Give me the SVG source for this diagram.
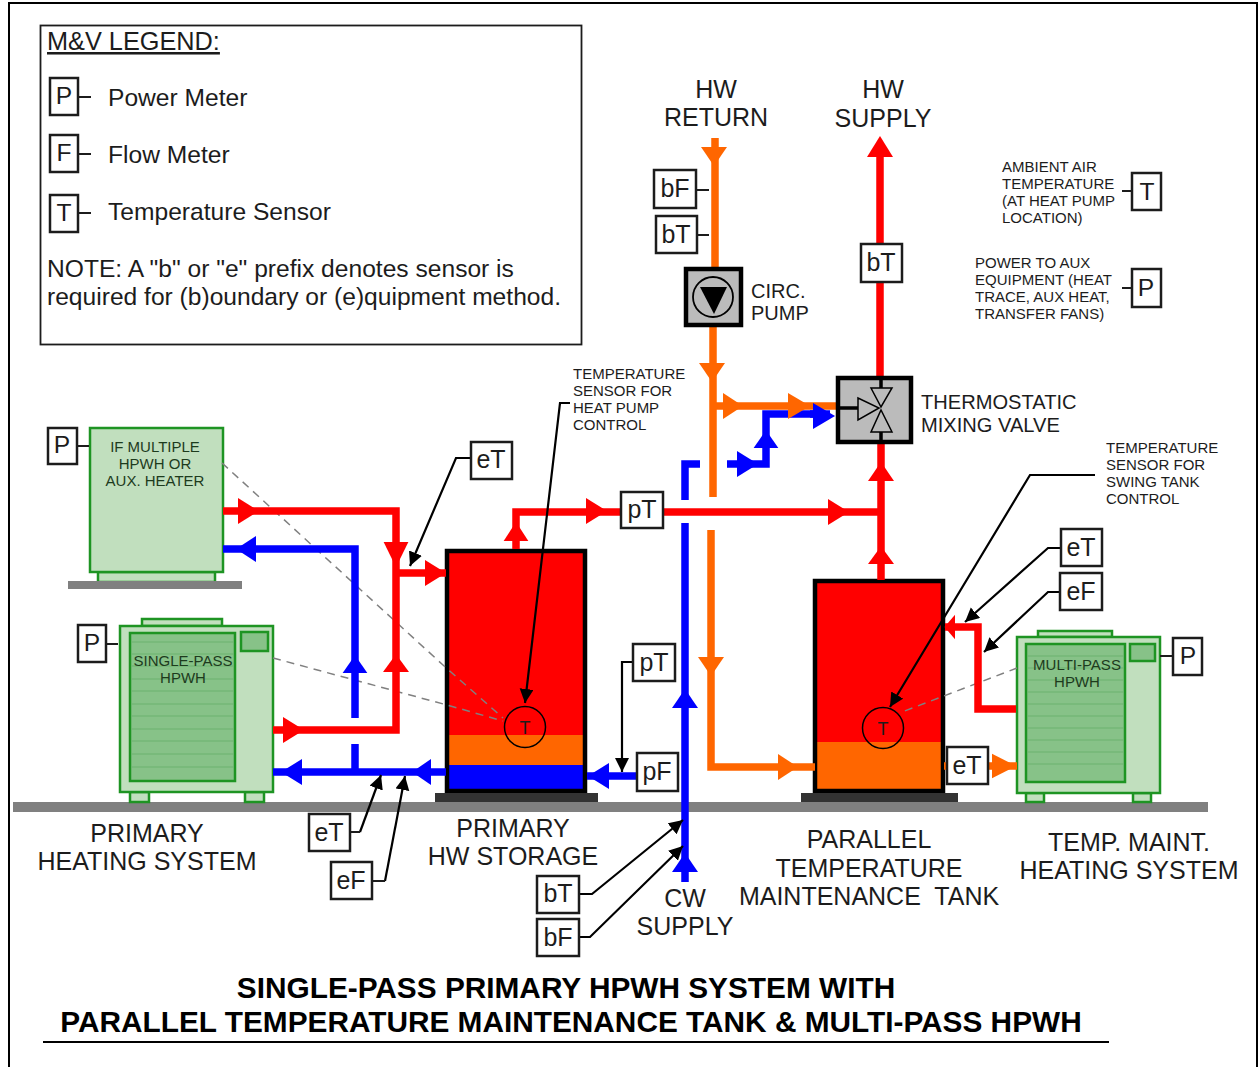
<svg xmlns="http://www.w3.org/2000/svg" width="1259" height="1067" viewBox="0 0 1259 1067">
<style>
text{font-family:"Liberation Sans",Arial,sans-serif;fill:#1c1c1c}
.l{font-size:24.600px}.m{font-size:25px}.s{font-size:15px}.u{font-size:15px;fill:#1d3b1d}
.c{text-anchor:middle}
.t{font-size:29.800px;font-weight:bold;fill:#000}
.p{font-size:20px}.v{font-size:20.100px}
.box{fill:#fff;stroke:#1c1c1c;stroke-width:2.5}
.tick{stroke:#1c1c1c;stroke-width:2;fill:none}
.lead{stroke:#000;stroke-width:2.2;fill:none;marker-end:url(#lh)}
.pipe{fill:none;stroke-width:7.5}
.red{stroke:#f00}.blue{stroke:#00f}.orange{stroke:#f60}
.fr{fill:#f00}.fb{fill:#00f}.fo{fill:#f60}
.hp{fill:#c1dfbe;stroke:#1e9423;stroke-width:2.5}
.coil{fill:#87c288;stroke:#1e9423;stroke-width:2.5}
.fin{stroke:#6cb26f;stroke-width:1.2}
.dash{fill:none;stroke:#808080;stroke-width:1.5;stroke-dasharray:8 6}
.tank{stroke:#000;stroke-width:4.5;fill:none}
.base{fill:#333}.pad{fill:#808080}
.gray{fill:#bbb;stroke:#000;stroke-width:4.5}
.vt{fill:#bbb;stroke:#000;stroke-width:1.5}
</style>
<defs>
<path id="h" d="M0-13L21 0L0 13Z"/>
<marker id="lh" markerUnits="userSpaceOnUse" markerWidth="16" markerHeight="16" refX="14" refY="7" orient="auto"><path d="M0 0L14 7L0 14Z" fill="#000"/></marker>
</defs>
<rect width="1259" height="1067" fill="#fff"/>
<path d="M9 1067V3H1257V1067" fill="none" stroke="#000" stroke-width="2"/>
<rect class="pad" x="13" y="802" width="1195" height="10"/>

<g id="legend">
<rect x="40.500" y="25.500" width="541" height="319" fill="#fff" stroke="#1c1c1c" stroke-width="1.800"/>
<text class="l" x="47" y="50" text-decoration="underline" style="font-size:25.300px">M&amp;V LEGEND:</text>
<rect class="box" x="50" y="78" width="28" height="37"/><text class="l c" x="64" y="104">P</text><path class="tick" d="M78 97H91"/>
<text class="l" x="108" y="106">Power Meter</text>
<rect class="box" x="50" y="135" width="28" height="37"/><text class="l c" x="64" y="161">F</text><path class="tick" d="M78 154H91"/>
<text class="l" x="108" y="163">Flow Meter</text>
<rect class="box" x="50" y="195" width="28" height="37"/><text class="l c" x="64" y="221">T</text><path class="tick" d="M78 213H91"/>
<text class="l" x="108" y="220">Temperature Sensor</text>
<text class="l" x="47" y="277">NOTE: A "b" or "e" prefix denotes sensor is</text>
<text class="l" x="47" y="305">required for (b)oundary or (e)quipment method.</text>
</g>

<g id="tank-primary">
<rect class="fr" x="447" y="551" width="138" height="185"/>
<rect class="fo" x="447" y="735" width="138" height="31"/>
<rect class="fb" x="447" y="765" width="138" height="25"/>
<rect class="tank" x="447" y="551" width="138" height="240"/>
<rect class="base" x="435" y="793" width="163" height="9"/>
<circle cx="525" cy="727" r="20.500" fill="none" stroke="#000" stroke-width="1.500"/>
<text class="c" x="525" y="734" font-size="18">T</text>
<text class="m c" x="513" y="837">PRIMARY</text><text class="m c" x="513" y="865">HW STORAGE</text>
</g>

<g id="tank-parallel">
<rect class="fr" x="815" y="581" width="128" height="162"/>
<rect class="fo" x="815" y="742" width="128" height="49"/>
<rect class="tank" x="815" y="581" width="128" height="210"/>
<rect class="base" x="801" y="793" width="157" height="9"/>
<circle cx="883" cy="728" r="20.500" fill="none" stroke="#000" stroke-width="1.500"/>
<text class="c" x="883" y="735" font-size="18">T</text>
<text class="m c" x="869" y="848">PARALLEL</text><text class="m c" x="869" y="877">TEMPERATURE</text><text class="m c" x="869" y="905" xml:space="preserve">MAINTENANCE  TANK</text>
</g>

<g id="heater-aux">
<rect class="hp" x="98" y="572" width="117" height="10"/>
<rect class="hp" x="90" y="428" width="133" height="144"/>
<rect class="pad" x="68" y="581" width="174" height="8"/>
<text class="u c" x="155" y="452">IF MULTIPLE</text><text class="u c" x="155" y="469">HPWH OR</text><text class="u c" x="155" y="486">AUX. HEATER</text>
<rect class="box" x="48" y="428" width="29" height="36"/><text class="l c" x="62" y="453">P</text><path class="tick" d="M77 446H89"/>
</g>

<g id="heater-single">
<rect class="hp" x="142" y="619" width="80" height="7"/>
<rect class="hp" x="130" y="792" width="19" height="10"/><rect class="hp" x="245" y="792" width="19" height="10"/>
<rect class="hp" x="120" y="626" width="153" height="166"/>
<rect class="coil" x="130" y="633" width="105" height="148"/>
<path class="fin" d="M131 642H234M131 654H234M131 666H234M131 679H234M131 691H234M131 704H234M131 716H234M131 729H234M131 741H234M131 754H234M131 767H234"/>
<rect class="coil" x="241" y="632" width="27" height="19"/>
<text class="u c" x="183" y="666">SINGLE-PASS</text><text class="u c" x="183" y="683">HPWH</text>
<rect class="box" x="78" y="625" width="28" height="37"/><text class="l c" x="92" y="651">P</text><path class="tick" d="M106 644H118"/>
<text class="m c" x="147" y="842">PRIMARY</text><text class="m c" x="147" y="870">HEATING SYSTEM</text>
</g>

<g id="heater-multi">
<rect class="hp" x="1038" y="631" width="74" height="6"/>
<rect class="hp" x="1026" y="793" width="18" height="9"/><rect class="hp" x="1133" y="793" width="18" height="9"/>
<rect class="hp" x="1017" y="637" width="143" height="156"/>
<rect class="coil" x="1026" y="644" width="99" height="138"/>
<path class="fin" d="M1027 656H1124M1027 668H1124M1027 680H1124M1027 692H1124M1027 704H1124M1027 716H1124M1027 728H1124M1027 740H1124M1027 752H1124M1027 764H1124"/>
<rect class="coil" x="1130" y="644" width="25" height="17"/>
<text class="u c" x="1077" y="670">MULTI-PASS</text><text class="u c" x="1077" y="687">HPWH</text>
<rect class="box" x="1173" y="638" width="29" height="37"/><text class="l c" x="1188" y="664">P</text><path class="tick" d="M1160 656H1173"/>
<text class="m c" x="1129" y="851">TEMP. MAINT.</text><text class="m c" x="1129" y="879">HEATING SYSTEM</text>
</g>

<g id="connectors">
<path class="dash" d="M222 463L443 665L503 718"/>
<path class="dash" d="M273 658L447 705L503 721"/>
<path class="dash" d="M1017 668L902 712"/>
<g class="blue">
<path class="pipe" d="M223 549H355V718M355 744V772M273 772H446"/>
<path class="pipe" d="M587 776H640"/>
<path class="pipe" d="M685 882V523M685 500V464H700"/>
</g>
<path class="pipe blue" d="M727 464H766V414H820"/>
<g class="fb">
<use href="#h" transform="translate(256 549) rotate(180) scale(.95 1)"/>
<use href="#h" transform="translate(355 673) rotate(-90) scale(.85 .95)"/>
<use href="#h" transform="translate(302 772) rotate(180)"/>
<use href="#h" transform="translate(431 772) rotate(180) scale(.9 1)"/>
<use href="#h" transform="translate(609 776) rotate(180)"/>
<use href="#h" transform="translate(685 708) rotate(-90) scale(.9 1)"/>
<use href="#h" transform="translate(685 872) rotate(-90) scale(.9 1)"/>
<use href="#h" transform="translate(737 464)"/>
<use href="#h" transform="translate(766 448) rotate(-90) scale(.85 .95)"/>
</g>
<g class="red">
<path class="pipe" d="M223 511H396V730H273M396 573H446"/>
<path class="pipe" d="M516 549V512H625"/>
<path class="pipe" d="M660 512H881"/>
<path class="pipe" d="M880 150V376M881 443V580"/>
<path class="pipe" d="M1016 709H978V627H945"/>
</g>
<g class="fr">
<use href="#h" transform="translate(238 511)"/>
<use href="#h" transform="translate(396 542) rotate(90) scale(1.2 .95)"/>
<use href="#h" transform="translate(396 672) rotate(-90) scale(.85 1)"/>
<use href="#h" transform="translate(283 730)"/>
<use href="#h" transform="translate(425 573)"/>
<use href="#h" transform="translate(516 541) rotate(-90) scale(.9 .95)"/>
<use href="#h" transform="translate(586 511)"/>
<use href="#h" transform="translate(828 512)"/>
<use href="#h" transform="translate(880 157) rotate(-90) scale(1 1)"/>
<use href="#h" transform="translate(881 481) rotate(-90) scale(.9 1)"/>
<use href="#h" transform="translate(881 564) rotate(-90) scale(.85 1)"/>
<use href="#h" transform="translate(955 627) rotate(180) scale(.5 .95)"/>
</g>
<g class="orange">
<path class="pipe" d="M715 138V267M713 326V497"/>
<path class="pipe" d="M711 530V767H815"/>
<path class="pipe" d="M713 406H838"/>
<path class="pipe" d="M944 766H948M988 766H1017"/>
</g>
<g class="fo">
<use href="#h" transform="translate(714 147) rotate(90) scale(.9 1)"/>
<use href="#h" transform="translate(712 363) rotate(90) scale(.9 1)"/>
<use href="#h" transform="translate(723 406) scale(.95 1)"/>
<use href="#h" transform="translate(788 406) scale(1.05 1)"/>
<use href="#h" transform="translate(711 657) rotate(90) scale(.9 1)"/>
<use href="#h" transform="translate(778 767) scale(.95 1)"/>
<use href="#h" transform="translate(992 766) scale(1.15 .95)"/>
</g>
<path class="pipe blue" d="M810 414H830"/>
<use class="fb" href="#h" transform="translate(813 416) scale(1.05 1)"/>
<path class="lead" d="M470 458H456L410 566"/>
<path class="lead" d="M570 403H560L525 703"/>
<path class="lead" d="M633 662H622V772"/>
<path class="lead" d="M1095 475H1030L890 707"/>
<path class="lead" d="M1061 548H1048L965 622"/>
<path class="lead" d="M1060 592H1048L984 652"/>
<path class="lead" d="M360 832L381 775"/>
<path class="lead" d="M385 881L405 776"/>
<path class="lead" d="M579 894H592L683 820"/>
<path class="lead" d="M579 937H590L683 846"/>
</g>

<g id="pump">
<rect class="gray" x="686" y="269" width="55" height="56"/>
<circle cx="713" cy="297" r="20" fill="none" stroke="#000" stroke-width="1.800"/>
<path d="M700 287H727L714 314Z" fill="#000"/>
<text class="p" x="751" y="298">CIRC.</text><text class="p" x="751" y="320">PUMP</text>
</g>

<g id="valve">
<rect class="gray" x="838" y="378" width="73" height="64"/>
<path d="M881 378V388M881 432V441M840 408H858" stroke="#000" stroke-width="3.500" fill="none"/>
<path class="vt" d="M871 388H892L881 407Z"/><path class="vt" d="M871 432H892L881 410Z"/><path class="vt" d="M858 398V420L879 408Z"/>
<text class="v" x="921" y="409">THERMOSTATIC</text><text class="v" x="921" y="432">MIXING VALVE</text>
</g>

<g id="sensor-et-primary"><rect class="box" x="471" y="442" width="41" height="37"/><text class="m c" x="491" y="468">eT</text></g>
<g id="sensor-pt-top"><rect class="box" x="621" y="492" width="42" height="36"/><text class="m c" x="642" y="518">pT</text></g>
<g id="sensor-pt"><rect class="box" x="633" y="644" width="42" height="37"/><text class="m c" x="654" y="671">pT</text></g>
<g id="sensor-pf"><rect class="box" x="637" y="753" width="41" height="38"/><text class="m c" x="657" y="780">pF</text></g>
<g id="sensor-et-single"><rect class="box" x="309" y="814" width="41" height="37"/><text class="m c" x="329" y="841">eT</text><path class="tick" d="M350 832H360"/></g>
<g id="sensor-ef-single"><rect class="box" x="331" y="862" width="41" height="37"/><text class="m c" x="351" y="889">eF</text><path class="tick" d="M372 881H385"/></g>
<g id="sensor-bt-cw"><rect class="box" x="537" y="876" width="42" height="37"/><text class="m c" x="558" y="902">bT</text></g>
<g id="sensor-bf-cw"><rect class="box" x="537" y="919" width="42" height="37"/><text class="m c" x="558" y="946">bF</text></g>
<g id="sensor-bf-return"><rect class="box" x="654" y="170" width="42" height="38"/><text class="m c" x="675" y="197">bF</text><path class="tick" d="M696 190H709"/></g>
<g id="sensor-bt-return"><rect class="box" x="656" y="216" width="41" height="37"/><text class="m c" x="676" y="243">bT</text><path class="tick" d="M697 235H709"/></g>
<g id="sensor-bt-supply"><rect class="box" x="861" y="244" width="41" height="38"/><text class="m c" x="881" y="271">bT</text></g>
<g id="sensor-et-1"><rect class="box" x="1061" y="529" width="41" height="37"/><text class="m c" x="1081" y="556">eT</text></g>
<g id="sensor-ef-1"><rect class="box" x="1060" y="573" width="42" height="37"/><text class="m c" x="1081" y="600">eF</text></g>
<g id="sensor-et-2"><rect class="box" x="947" y="747" width="41" height="37"/><text class="m c" x="967" y="774">eT</text></g>

<g id="ambient">
<text class="s" x="1002" y="172">AMBIENT AIR</text><text class="s" x="1002" y="189">TEMPERATURE</text><text class="s" x="1002" y="206">(AT HEAT PUMP</text><text class="s" x="1002" y="223">LOCATION)</text>
<rect class="box" x="1132" y="173" width="29" height="37"/><text class="l c" x="1147" y="200">T</text><path class="tick" d="M1122 191H1132"/>
</g>
<g id="aux-power">
<text class="s" x="975" y="268">POWER TO AUX</text><text class="s" x="975" y="285">EQUIPMENT (HEAT</text><text class="s" x="975" y="302">TRACE, AUX HEAT,</text><text class="s" x="975" y="319">TRANSFER FANS)</text>
<rect class="box" x="1132" y="269" width="29" height="38"/><text class="l c" x="1146" y="296">P</text><path class="tick" d="M1122 288H1132"/>
</g>

<g id="labels">
<text class="m c" x="716" y="98">HW</text><text class="m c" x="716" y="126">RETURN</text>
<text class="m c" x="883" y="98">HW</text><text class="m c" x="883" y="127">SUPPLY</text>
<text class="m c" x="685" y="907">CW</text><text class="m c" x="685" y="935">SUPPLY</text>
<text class="s" x="573" y="379">TEMPERATURE</text><text class="s" x="573" y="396">SENSOR FOR</text><text class="s" x="573" y="413">HEAT PUMP</text><text class="s" x="573" y="430">CONTROL</text>
<text class="s" x="1106" y="453">TEMPERATURE</text><text class="s" x="1106" y="470">SENSOR FOR</text><text class="s" x="1106" y="487">SWING TANK</text><text class="s" x="1106" y="504">CONTROL</text>
</g>

<g id="title">
<text class="t c" x="566" y="998">SINGLE-PASS PRIMARY HPWH SYSTEM WITH</text>
<text class="t c" x="571" y="1032">PARALLEL TEMPERATURE MAINTENANCE TANK &amp; MULTI-PASS HPWH</text>
<path d="M43 1042H1109" stroke="#000" stroke-width="2"/>
</g>
</svg>
